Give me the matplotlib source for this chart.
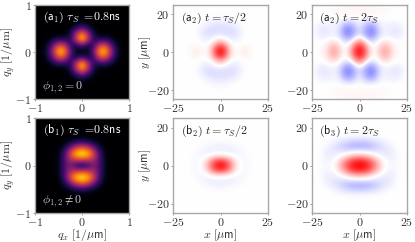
import numpy as np
import matplotlib
matplotlib.use('Agg')
import matplotlib.pyplot as plt

plt.rcParams['mathtext.fontset'] = 'cm'
plt.rcParams['font.family'] = 'serif'

W, H = 415, 242

# quadrant values, rows are y = 0, 0.125 .. 1, columns x = 0, 0.125 .. 1
a1_q = [[0.00, 0.03, 0.32, 0.82, 0.88, 0.42, 0.08, 0.01, 0],
        [0.22, 0.06, 0.18, 0.58, 0.62, 0.28, 0.05, 0, 0],
        [0.92, 0.52, 0.12, 0.14, 0.15, 0.07, 0.01, 0, 0],
        [0.80, 0.46, 0.09, 0.01, 0, 0, 0, 0, 0],
        [0.24, 0.12, 0.02, 0, 0, 0, 0, 0, 0],
        [0.03, 0.01, 0, 0, 0, 0, 0, 0, 0],
        [0, 0, 0, 0, 0, 0, 0, 0, 0],
        [0, 0, 0, 0, 0, 0, 0, 0, 0],
        [0, 0, 0, 0, 0, 0, 0, 0, 0]]
b1_q = [[0.03, 0.12, 0.35, 0.22, 0.03, 0, 0, 0, 0],
        [0.60, 0.55, 0.45, 0.22, 0.03, 0, 0, 0, 0],
        [1.00, 0.90, 0.60, 0.20, 0.02, 0, 0, 0, 0],
        [0.65, 0.55, 0.32, 0.10, 0.01, 0, 0, 0, 0],
        [0.14, 0.11, 0.05, 0.01, 0, 0, 0, 0, 0],
        [0.01, 0, 0, 0, 0, 0, 0, 0, 0],
        [0, 0, 0, 0, 0, 0, 0, 0, 0],
        [0, 0, 0, 0, 0, 0, 0, 0, 0],
        [0, 0, 0, 0, 0, 0, 0, 0, 0]]

# rows are y = 0, 2.5 .. 25, columns x = 0, 2.5 .. 25
a2_r = [[1.00, 0.75, 0.20, 0.02, 0.03, 0.08, 0.05, 0.01, 0, 0, 0],
        [0.80, 0.55, 0.15, 0.00, 0.02, 0.05, 0.03, 0, 0, 0, 0],
        [0.30, 0.15, 0.00, -0.03, -0.02, 0, 0.01, 0, 0, 0, 0],
        [0.00, -0.03, -0.08, -0.08, -0.05, -0.01, 0, 0, 0, 0, 0],
        [-0.12, -0.13, -0.14, -0.12, -0.07, -0.02, 0, 0, 0, 0, 0],
        [-0.13, -0.13, -0.12, -0.09, -0.04, -0.01, 0, 0, 0, 0, 0],
        [-0.08, -0.08, -0.06, -0.04, -0.02, 0, 0, 0, 0, 0, 0],
        [-0.03, -0.03, -0.02, -0.01, 0, 0, 0, 0, 0, 0, 0],
        [-0.01, -0.01, 0, 0, 0, 0, 0, 0, 0, 0, 0],
        [0, 0, 0, 0, 0, 0, 0, 0, 0, 0, 0],
        [0, 0, 0, 0, 0, 0, 0, 0, 0, 0, 0]]
a3_r = [[1.00, 0.72, 0.25, 0.00, 0.16, 0.34, 0.30, 0.10, 0.03, 0.01, 0],
        [0.85, 0.60, 0.15, -0.03, 0.10, 0.28, 0.25, 0.08, 0.02, 0, 0],
        [0.45, 0.25, -0.06, -0.08, 0.00, 0.10, 0.10, 0.02, 0, 0, 0],
        [0.05, -0.12, -0.35, -0.30, -0.12, -0.03, -0.02, -0.05, -0.06, -0.03, 0],
        [-0.15, -0.30, -0.45, -0.45, -0.20, -0.06, -0.07, -0.09, -0.09, -0.05, 0],
        [-0.10, -0.25, -0.42, -0.40, -0.15, -0.05, -0.06, -0.08, -0.08, -0.04, 0],
        [-0.05, -0.15, -0.22, -0.20, -0.08, -0.03, -0.04, -0.05, -0.04, -0.02, 0],
        [0.00, 0.00, -0.02, -0.01, 0, 0, 0, 0, 0, 0, 0],
        [0.03, 0.03, 0.03, 0.03, 0.03, 0.03, 0.02, 0.01, 0, 0, 0],
        [0.04, 0.04, 0.04, 0.04, 0.03, 0.03, 0.02, 0.01, 0, 0, 0],
        [0.03, 0.03, 0.03, 0.03, 0.02, 0.01, 0.01, 0, 0, 0, 0]]
b2_r = [[1.00, 0.85, 0.55, 0.20, 0.02, -0.03, -0.02, 0, 0, 0, 0],
        [0.75, 0.65, 0.40, 0.12, 0.00, -0.03, -0.02, 0, 0, 0, 0],
        [0.10, 0.08, 0.02, -0.02, -0.03, -0.03, -0.01, 0, 0, 0, 0],
        [-0.06, -0.06, -0.06, -0.05, -0.04, -0.02, 0, 0, 0, 0, 0],
        [-0.06, -0.05, -0.05, -0.03, -0.02, -0.01, 0, 0, 0, 0, 0],
        [-0.02, -0.02, -0.01, -0.01, 0, 0, 0, 0, 0, 0, 0],
        [0, 0, 0, 0, 0, 0, 0, 0, 0, 0, 0],
        [0, 0, 0, 0, 0, 0, 0, 0, 0, 0, 0],
        [0, 0, 0, 0, 0, 0, 0, 0, 0, 0, 0],
        [0, 0, 0, 0, 0, 0, 0, 0, 0, 0, 0],
        [0, 0, 0, 0, 0, 0, 0, 0, 0, 0, 0]]
b3_r = [[1.00, 0.95, 0.80, 0.55, 0.30, 0.06, -0.02, -0.03, -0.02, 0, 0],
        [0.85, 0.80, 0.65, 0.42, 0.20, 0.02, -0.03, -0.04, -0.02, 0, 0],
        [0.30, 0.28, 0.20, 0.08, 0.00, -0.05, -0.07, -0.06, -0.02, 0, 0],
        [-0.06, -0.07, -0.08, -0.10, -0.10, -0.10, -0.09, -0.06, -0.02, 0, 0],
        [-0.30, -0.30, -0.28, -0.23, -0.17, -0.12, -0.08, -0.04, -0.01, 0, 0],
        [-0.22, -0.21, -0.18, -0.14, -0.10, -0.06, -0.03, -0.01, 0, 0, 0],
        [-0.04, -0.04, -0.03, -0.03, -0.02, -0.01, 0, 0, 0, 0, 0],
        [-0.01, -0.01, -0.01, 0, 0, 0, 0, 0, 0, 0, 0],
        [0, 0, 0, 0, 0, 0, 0, 0, 0, 0, 0],
        [0.01, 0.01, 0.01, 0.01, 0, 0, 0, 0, 0, 0, 0],
        [0, 0, 0, 0, 0, 0, 0, 0, 0, 0, 0]]

q_ticks = [-1, 0, 1]
x_ticks = [-25, 0, 25]
y_ticks = [-20, 0, 20]

a_top, a_bot = 5, 99
b_top, b_bot = 118, 213
col_lims = [(35, 129), (173, 268), (312, 407)]
gray = '#a8a8a8'
fs = 8.6
lab_fs = 8.6


def mirror(quad):
    q = np.array(quad, dtype=float)
    upper = np.hstack([q[:, :0:-1], q])
    return np.vstack([upper[:0:-1], upper])


def panel(data, col, top, bot, xlim, cmap, vmin, vmax):
    l, r = col_lims[col]
    ax = fig.add_axes([l / W, 1 - bot / H, (r - l) / W, (bot - top) / H])
    m = mirror(data)
    step = 2 * xlim / (m.shape[0] - 1)
    ext = [-xlim - step / 2, xlim + step / 2, -xlim - step / 2, xlim + step / 2]
    ax.imshow(m, origin='lower', extent=ext, cmap=cmap, vmin=vmin, vmax=vmax,
              interpolation='bicubic', aspect='auto')
    ax.set_xlim(-xlim, xlim)
    ax.set_ylim(-xlim, xlim)
    for s in ax.spines.values():
        s.set_color(gray)
        s.set_linewidth(1.0)
    ax.tick_params(labelsize=fs, length=1.5, width=0.5, pad=1.0, color='#777777', labelcolor='#333333')
    return ax


def ticks(ax, xt, yt):
    ax.set_xticks(xt)
    ax.set_yticks(yt)
    ax.set_xticklabels(['$%d$' % v for v in xt])
    ax.set_yticklabels(['$%d$' % v for v in yt])


def xlab(ax, s):
    ax.set_xlabel(s, fontsize=lab_fs, color='#333333')
    ax.xaxis.set_label_coords(0.5, -0.15)


def ylab(ax, s, x):
    ax.set_ylabel(s, fontsize=lab_fs, color='#333333')
    ax.yaxis.set_label_coords(x, 0.5)


fig = plt.figure(figsize=(W / 100, H / 100), dpi=100)

ax = panel(a1_q, 0, a_top, a_bot, 1, 'inferno', 0, 1)
ticks(ax, q_ticks, q_ticks)
ylab(ax, r'$q_y\ [1/\mu\mathrm{m}]$', -0.19)
ax.text(0.08, 0.84, r'$(\mathsf{a}_1)\ \tau_S\ =\!\mathsf{0.8ns}$', color='white', fontsize=fs, transform=ax.transAxes)
ax.text(0.07, 0.10, r'$\phi_{1,2}=0$', color='#cccccc', fontsize=fs, transform=ax.transAxes)

ax = panel(b1_q, 0, b_top, b_bot, 1, 'inferno', 0, 1)
ticks(ax, q_ticks, q_ticks)
xlab(ax, r'$q_x\ [1/\mu\mathsf{m}]$')
ylab(ax, r'$q_y\ [1/\mu\mathrm{m}]$', -0.19)
ax.text(0.08, 0.84, r'$(\mathsf{b}_1)\ \tau_S\ =\!\mathsf{0.8ns}$', color='white', fontsize=fs, transform=ax.transAxes)
ax.text(0.07, 0.10, r'$\phi_{1,2}\neq 0$', color='#cccccc', fontsize=fs, transform=ax.transAxes)

ax = panel(a2_r, 1, a_top, a_bot, 25, 'bwr', -1, 1)
ticks(ax, x_ticks, y_ticks)
ylab(ax, r'$y\ [\mu\mathsf{m}]$', -0.21)
ax.text(0.08, 0.83, r'$(\mathsf{a}_2)\ t=\tau_S/2$', fontsize=fs, color='#222222', transform=ax.transAxes)

ax = panel(a3_r, 2, a_top, a_bot, 25, 'bwr', -1, 1)
ticks(ax, x_ticks, y_ticks)
ax.text(0.075, 0.83, r'$(\mathsf{a}_2)\ t=2\tau_S$', fontsize=fs, color='#222222', transform=ax.transAxes)

ax = panel(b2_r, 1, b_top, b_bot, 25, 'bwr', -1, 1)
ticks(ax, x_ticks, y_ticks)
xlab(ax, r'$x\ [\mu\mathsf{m}]$')
ylab(ax, r'$y\ [\mu\mathsf{m}]$', -0.21)
ax.text(0.08, 0.83, r'$(\mathsf{b}_2)\ t=\tau_S/2$', fontsize=fs, color='#222222', transform=ax.transAxes)

ax = panel(b3_r, 2, b_top, b_bot, 25, 'bwr', -1, 1)
ticks(ax, x_ticks, y_ticks)
xlab(ax, r'$x\ [\mu\mathsf{m}]$')
ax.text(0.075, 0.83, r'$(\mathsf{b}_3)\ t=2\tau_S$', fontsize=fs, color='#222222', transform=ax.transAxes)

plt.savefig('out.png', dpi=100)
